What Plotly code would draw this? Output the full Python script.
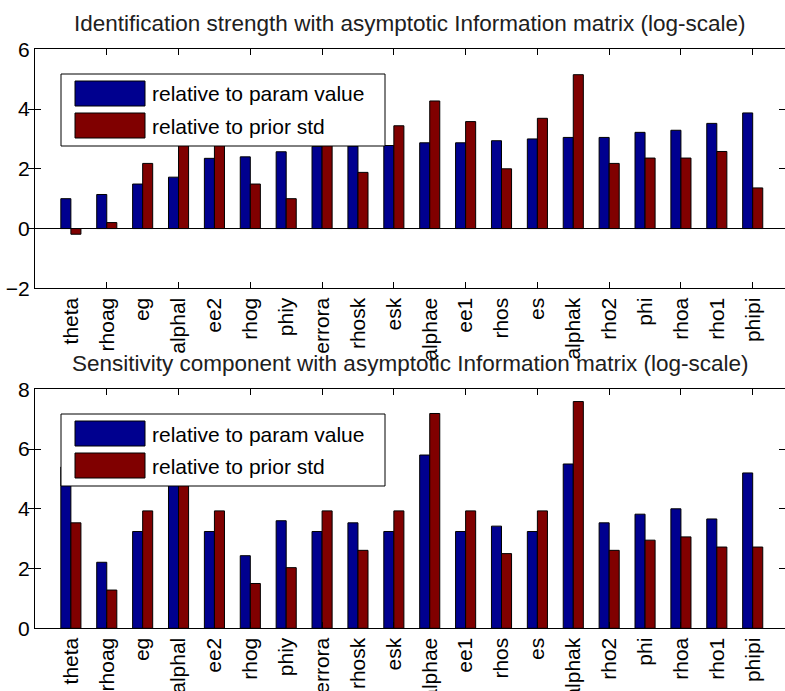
import plotly.graph_objects as go

W, H = 785, 691

params = ['theta', 'rhoag', 'eg', 'alphal', 'ee2', 'rhog', 'phiy', 'errora', 'rhosk', 'esk',
	'alphae', 'ee1', 'rhos', 'es', 'alphak', 'rho2', 'phi', 'rhoa', 'rho1', 'phipi']

# identification strength (log-scale)
ident_param_value = [1.00, 1.14, 1.49, 1.72, 2.35, 2.40, 2.57, 2.75, 2.76, 2.78,
	2.87, 2.87, 2.94, 3.00, 3.05, 3.05, 3.22, 3.29, 3.52, 3.87]
ident_prior_std = [-0.19, 0.20, 2.18, 3.90, 3.50, 1.49, 1.00, 3.50, 1.88, 3.44,
	4.27, 3.58, 2.00, 3.69, 5.15, 2.18, 2.36, 2.36, 2.58, 1.36]

# sensitivity component (log-scale)
sens_param_value = [5.40, 2.21, 3.24, 5.60, 3.24, 2.43, 3.60, 3.24, 3.53, 3.24,
	5.80, 3.24, 3.42, 3.24, 5.50, 3.53, 3.82, 4.00, 3.66, 5.20]
sens_prior_std = [3.53, 1.28, 3.93, 5.30, 3.93, 1.50, 2.03, 3.93, 2.61, 3.93,
	7.19, 3.93, 2.50, 3.93, 7.59, 2.61, 2.95, 3.06, 2.72, 2.72]

titles = [
	'Identification strength with asymptotic Information matrix (log-scale)',
	'Sensitivity component with asymptotic Information matrix (log-scale)',
]
legend_labels = ['relative to param value', 'relative to prior std']
colors = ['#00008F', '#800000']
FONT = 'Liberation Sans, Arial, sans-serif'

def px_x(px):
	return px/W

def px_y(py):
	return 1 - py/H

positions = list(range(1, len(params)+1))
fig = go.Figure()

panels = [
	(ident_param_value, ident_prior_std, [-2, 6], 49.3, 288.3),
	(sens_param_value, sens_prior_std, [0, 8], 389.3, 628.3),
]

shapes = []
annotations = []
for k, (blue, red, yrange, top, bottom) in enumerate(panels):
	xa = 'x' if k == 0 else f'x{2*k+1}'
	ya = 'y' if k == 0 else f'y{k+1}'
	xa_ticks = f'x{2*k+2}'
	for vals, color, label in zip([blue, red], colors, legend_labels):
		fig.add_trace(go.Bar(
			x = positions,
			y = vals,
			name = label,
			marker = dict(color=color, line=dict(color='black', width=1)),
			xaxis = xa,
			yaxis = ya,
			showlegend = False,
		))
	# empty trace so the tick-mark axis gets drawn
	fig.add_trace(go.Scatter(x=[None], y=[None], xaxis=xa_ticks, yaxis=ya, showlegend=False, hoverinfo='skip'))

	ydomain = [px_y(bottom), px_y(top)]
	xdomain = [px_x(35), 1.0]
	axis_font = dict(family=FONT, size=21, color='black')
	# labels on every parameter, no tick marks here
	fig.layout[xa.replace('x', 'xaxis')] = dict(
		domain = xdomain,
		anchor = ya,
		range = [0, 20.9],
		tickmode = 'array',
		tickvals = positions,
		ticktext = params,
		tickangle = -90,
		ticks = '',
		showline = True,
		linecolor = 'black',
		linewidth = 1,
		mirror = True,
		showgrid = False,
		zeroline = False,
		automargin = False,
		tickfont = axis_font,
	)
	# tick marks only on every second parameter, as in the matlab figure
	fig.layout[xa_ticks.replace('x', 'xaxis')] = dict(
		overlaying = xa,
		anchor = ya,
		range = [0, 20.9],
		tickmode = 'array',
		tickvals = positions[1::2],
		ticks = 'inside',
		ticklen = 6,
		tickcolor = 'black',
		showticklabels = False,
		showline = False,
		mirror = 'allticks',
		showgrid = False,
		zeroline = False,
		automargin = False,
	)
	fig.layout[ya.replace('y', 'yaxis')] = dict(
		domain = ydomain,
		anchor = xa,
		range = yrange,
		dtick = 2,
		ticks = 'inside',
		ticklen = 6,
		tickcolor = 'black',
		showline = True,
		linecolor = 'black',
		linewidth = 1,
		mirror = 'allticks',
		showgrid = False,
		zeroline = True,
		zerolinecolor = 'black',
		zerolinewidth = 1,
		automargin = False,
		tickfont = axis_font,
	)

	# title
	annotations.append(dict(
		text = titles[k],
		x = px_x(410), y = px_y(top-25.5),
		xref = 'paper', yref = 'paper',
		xanchor = 'center', yanchor = 'middle',
		showarrow = False,
		font = dict(family=FONT, size=22.5, color='#202020'),
	))

	# legend box, drawn like the matlab one (big swatches)
	off = top - 49.3
	shapes.append(dict(
		type = 'rect', xref = 'paper', yref = 'paper',
		x0 = px_x(61), x1 = px_x(385), y0 = px_y(off+146), y1 = px_y(off+74),
		fillcolor = 'white', line = dict(color='black', width=1), layer = 'above',
	))
	for i, (color, label) in enumerate(zip(colors, legend_labels)):
		y0 = off + 81 + 32*i
		shapes.append(dict(
			type = 'rect', xref = 'paper', yref = 'paper',
			x0 = px_x(75), x1 = px_x(145), y0 = px_y(y0+25), y1 = px_y(y0),
			fillcolor = color, line = dict(color='black', width=1), layer = 'above',
		))
		annotations.append(dict(
			text = label,
			x = px_x(150), y = px_y(y0+13),
			xref = 'paper', yref = 'paper',
			xanchor = 'left', yanchor = 'middle',
			showarrow = False,
			font = dict(family=FONT, size=21, color='black'),
		))

fig.update_layout(
	width = W,
	height = H,
	margin = dict(l=0, r=0, t=0, b=0, pad=0),
	paper_bgcolor = 'white',
	plot_bgcolor = 'white',
	barmode = 'group',
	bargap = 0.44,
	bargroupgap = 0,
	shapes = shapes,
	annotations = annotations,
	showlegend = False,
)

# page margin off, so the figure sits at the corner of the window
fig.write_html(
	'out.html',
	config = {'displayModeBar': False},
	post_script = "document.body.style.margin='0';document.body.style.overflow='hidden';",
)
